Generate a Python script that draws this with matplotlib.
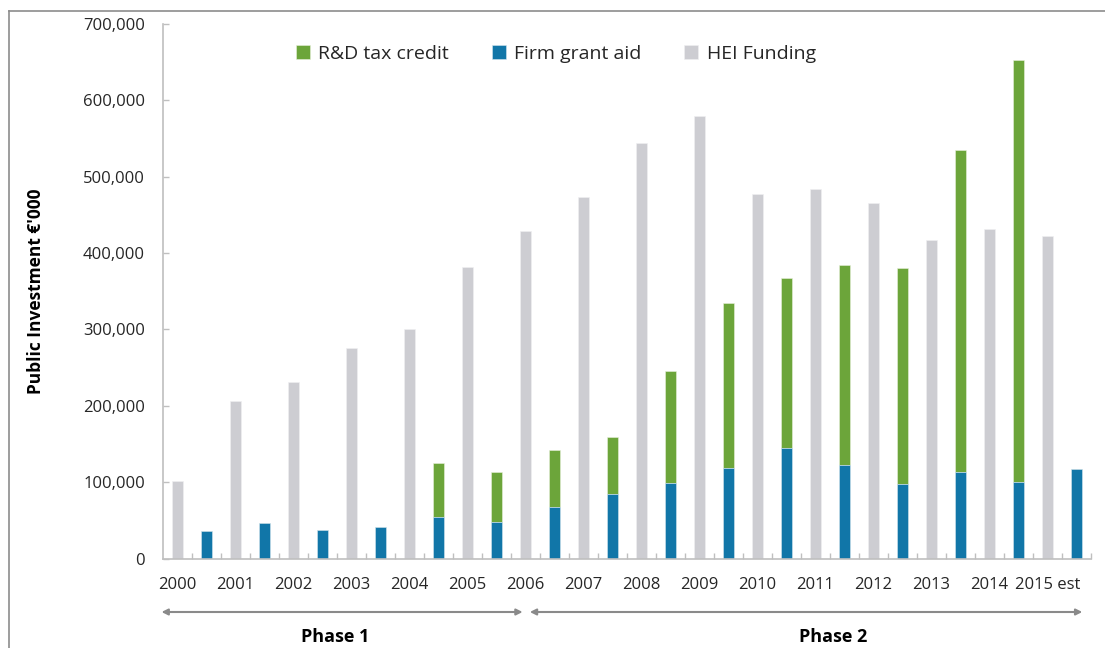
import numpy as np
import matplotlib
matplotlib.use("Agg")
import matplotlib.pyplot as plt
from matplotlib.lines import Line2D
from matplotlib.ticker import FuncFormatter

plt.rcParams['font.family'] = ['Open Sans', 'DejaVu Sans']

# values in EUR '000
years = ['2000', '2001', '2002', '2003', '2004', '2005', '2006', '2007',
         '2008', '2009', '2010', '2011', '2012', '2013', '2014', '2015 est']
hei_funding = [102000, 207000, 231000, 276000, 300000, 382000, 429000, 474000,
               544000, 580000, 478000, 484000, 466000, 417000, 431000, 423000]
firm_grant = [36000, 46000, 37000, 42000, 55000, 48000, 68000, 85000,
              99000, 119000, 145000, 122000, 98000, 114000, 100000, 117000]
rd_tax_credit = [0, 0, 0, 0, 70000, 65000, 74000, 74000,
                 146000, 216000, 223000, 262000, 282000, 421000, 553000, 0]
phases = ['Phase 1', 'Phase 2']

green = '#6ca53a'
blue = '#1176a8'
grey = '#cdcdd2'
axis_col = '#bfbfbf'
text_col = '#262626'

n = len(years)
x_hei = np.arange(n) * 2
x_firm = np.arange(n) * 2 + 1
w = 0.4

fig = plt.figure(figsize=(11.05, 6.48), dpi=100)
ax = fig.add_axes([163 / 1105, (648 - 558.6) / 648, 928 / 1105, 534.6 / 648])

ax.bar(x_firm, rd_tax_credit, w, bottom=firm_grant, color=green,
       edgecolor='#e8f0dc', linewidth=0.4, label='R&D tax credit')
ax.bar(x_firm, firm_grant, w, color=blue,
       edgecolor='#d6e6ef', linewidth=0.4, label='Firm grant aid')
ax.bar(x_hei, hei_funding, w, color=grey,
       edgecolor='#f0f0f2', linewidth=0.4, label='HEI Funding')

ax.set_xlim(-0.5, 2 * n - 0.5)
ax.set_ylim(0, 700000)

ax.set_xticks(x_hei)
ax.set_xticklabels(years)
ax.set_xticks(np.arange(0.5, 2 * n, 1), minor=True)
ax.tick_params(axis='x', which='major', length=0, pad=13, labelsize=12, labelcolor=text_col)
ax.tick_params(axis='x', which='minor', direction='in', length=4.5, color=axis_col, width=1)

ax.set_yticks(np.arange(0, 700001, 100000))
ax.yaxis.set_major_formatter(FuncFormatter(lambda v, p: f"{int(v):,}"))
ax.tick_params(axis='y', direction='in', length=4.5, color=axis_col, width=1,
               pad=13, labelsize=12, labelcolor=text_col)

for s in ['top', 'right']:
    ax.spines[s].set_visible(False)
for s in ['left', 'bottom']:
    ax.spines[s].set_color(axis_col)
    ax.spines[s].set_linewidth(1.2)

ax.set_ylabel("Public Investment €'000", fontsize=12.5, fontweight='bold', color='black')
ax.yaxis.set_label_coords(-0.127, 0.5)

leg = ax.legend(loc='center', bbox_to_anchor=(0.4235, 0.944), ncol=3, frameon=False,
                fontsize=14, handlelength=0.7, handleheight=0.7, handletextpad=0.45,
                columnspacing=2.2)
for t in leg.get_texts():
    t.set_color(text_col)

# phase arrows under the axis
trans = ax.get_xaxis_transform()
arrow_y = (558.6 - 612) / 534.6
text_y = (558.6 - 637) / 534.6
phase_spans = [(-0.55, 11.9), (12.15, 31.2)]
phase_label_x = [5.45, 22.6]
for (x0, x1), lx, name in zip(phase_spans, phase_label_x, phases):
    ax.annotate('', xy=(x1, arrow_y), xytext=(x0, arrow_y), xycoords=trans, textcoords=trans,
                arrowprops=dict(arrowstyle='<|-|>', color='#8a8a8a', lw=1.5,
                                mutation_scale=9, shrinkA=0, shrinkB=0),
                annotation_clip=False)
    ax.text(lx, text_y, name, transform=trans, ha='center', va='center',
            fontsize=13, fontweight='bold', color='black', clip_on=False)

# outer frame (top and left edges visible)
fig.add_artist(Line2D([9 / 1105, 1.01], [1 - 11 / 648, 1 - 11 / 648],
                      transform=fig.transFigure, color='#8c8c8c', lw=1.2))
fig.add_artist(Line2D([9 / 1105, 9 / 1105], [1 - 11 / 648, -0.01],
                      transform=fig.transFigure, color='#8c8c8c', lw=1.2))

fig.savefig('out.png', dpi=100)
